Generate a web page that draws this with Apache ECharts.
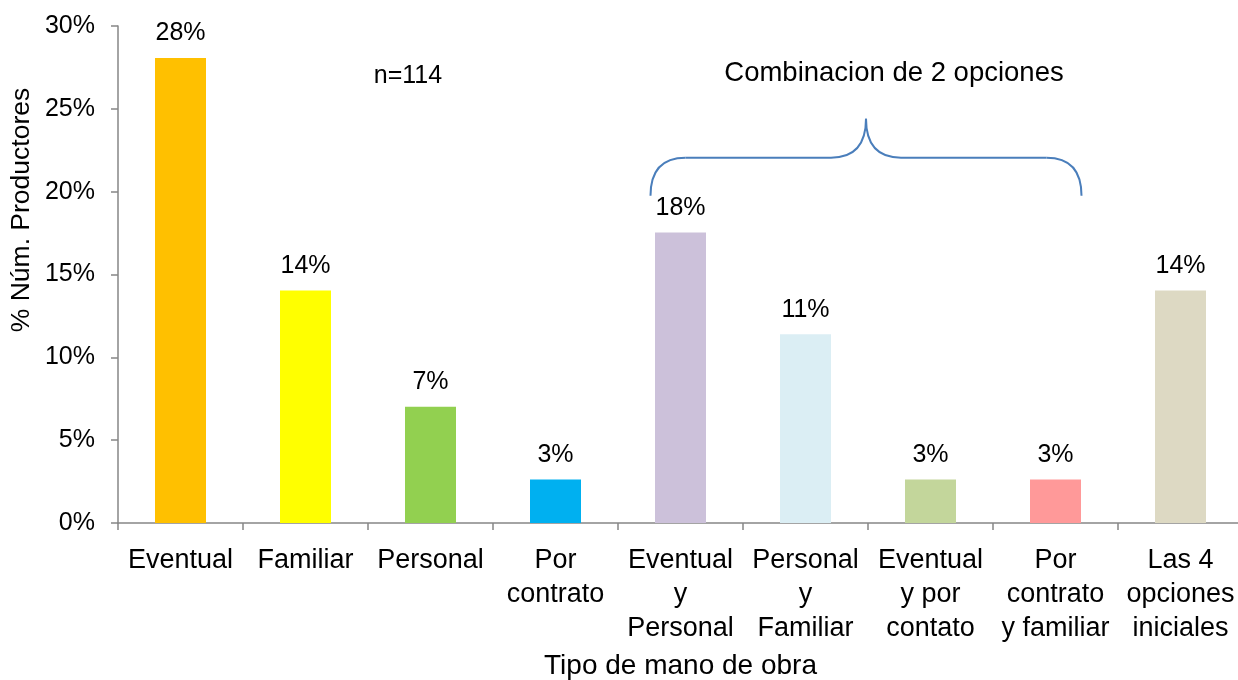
<!DOCTYPE html>
<html><head><meta charset="utf-8">
<script src="https://cdn.jsdelivr.net/npm/echarts@6/dist/echarts.min.js"></script>
<style>html,body{margin:0;padding:0;background:#fff}#c{width:1238px;height:680px}</style>
</head><body><div id="c"></div>
<script>
const categories = ['Eventual','Familiar','Personal','Por\ncontrato','Eventual\ny\nPersonal','Personal\ny\nFamiliar','Eventual\ny por\ncontato','Por\ncontrato\ny familiar','Las 4\nopciones\niniciales'];
const values = [28.07, 14.04, 7.02, 2.63, 17.54, 11.40, 2.63, 2.63, 14.04];
const colors = ['#FFC000','#FFFF00','#92D050','#00B0F0','#CCC1DA','#DBEEF4','#C3D69B','#FF9999','#DDD9C3'];
const yTicks = [0, 5, 10, 15, 20, 25, 30];
const font = 'Liberation Sans, Arial, sans-serif';
const chart = echarts.init(document.getElementById('c'));
chart.setOption({
  animation: false,
  grid: {left: 118, top: 26, width: 1125, height: 497, containLabel: false, outerBoundsMode: 'none'},
  xAxis: {
    type: 'category', data: categories,
    axisLine: {lineStyle: {color: '#868686', width: 1.5}},
    axisTick: {show: true, length: 7, lineStyle: {color: '#868686', width: 1.5}},
    axisLabel: {color: '#000', fontFamily: font, fontSize: 27, lineHeight: 34, margin: 21, interval: 0},
    name: 'Tipo de mano de obra', nameLocation: 'middle', nameGap: 129,
    nameTextStyle: {color: '#000', fontFamily: font, fontSize: 28}
  },
  yAxis: {
    type: 'value', min: yTicks[0], max: yTicks[yTicks.length-1], interval: 5,
    splitLine: {show: false},
    axisLine: {show: true, lineStyle: {color: '#868686', width: 1.5}},
    axisTick: {show: true, length: 7, lineStyle: {color: '#868686', width: 1.5}},
    axisLabel: {color: '#000', fontFamily: font, fontSize: 25, margin: 23, formatter: v => v + '%'}
  },
  series: [{
    type: 'bar', data: values.map((v,i)=>({value: v, itemStyle: {color: colors[i]}})),
    barWidth: 51,
    label: {show: true, position: 'top', distance: 12, color: '#000', fontFamily: font, fontSize: 25,
      formatter: p => Math.round(p.value) + '%'}
  }]
});
const p = (i, v) => chart.convertToPixel({xAxisIndex:0, yAxisIndex:0}, [i, v]);
const xl = p(4, 0)[0] - 30, xr = p(7, 0)[0] + 26;
const xm = (xl + xr) / 2;
const yTop = p(0, 24.4)[1], yMid = p(0, 22.05)[1], yEnd = p(0, 19.75)[1];
const bs = {fill: 'none', stroke: '#4A7EBB', lineWidth: 2};
chart.setOption({
  graphic: [
    {type: 'bezierCurve', shape: {x1: xl, y1: yEnd, cpx1: xl, cpy1: yMid, x2: xl+35, y2: yMid}, style: bs},
    {type: 'line', shape: {x1: xl+35, y1: yMid, x2: xm-35, y2: yMid}, style: bs},
    {type: 'bezierCurve', shape: {x1: xm-35, y1: yMid, cpx1: xm, cpy1: yMid, x2: xm, y2: yTop}, style: bs},
    {type: 'bezierCurve', shape: {x1: xm, y1: yTop, cpx1: xm, cpy1: yMid, x2: xm+35, y2: yMid}, style: bs},
    {type: 'line', shape: {x1: xm+35, y1: yMid, x2: xr-35, y2: yMid}, style: bs},
    {type: 'bezierCurve', shape: {x1: xr-35, y1: yMid, cpx1: xr, cpy1: yMid, x2: xr, y2: yEnd}, style: bs},
    {type: 'text', x: xm + 28, y: 73, style: {text: 'Combinacion de 2 opciones', fill: '#000', font: '27.5px ' + font, align: 'center', verticalAlign: 'middle'}},
    {type: 'text', x: 408, y: 76, style: {text: 'n=114', fill: '#000', font: '25px ' + font, align: 'center', verticalAlign: 'middle'}},
    {type: 'text', x: 22, y: 210, rotation: Math.PI/2, style: {text: '% Núm. Productores', fill: '#000', font: '26.5px ' + font, align: 'center', verticalAlign: 'middle'}}
  ]
});
</script></body></html>
